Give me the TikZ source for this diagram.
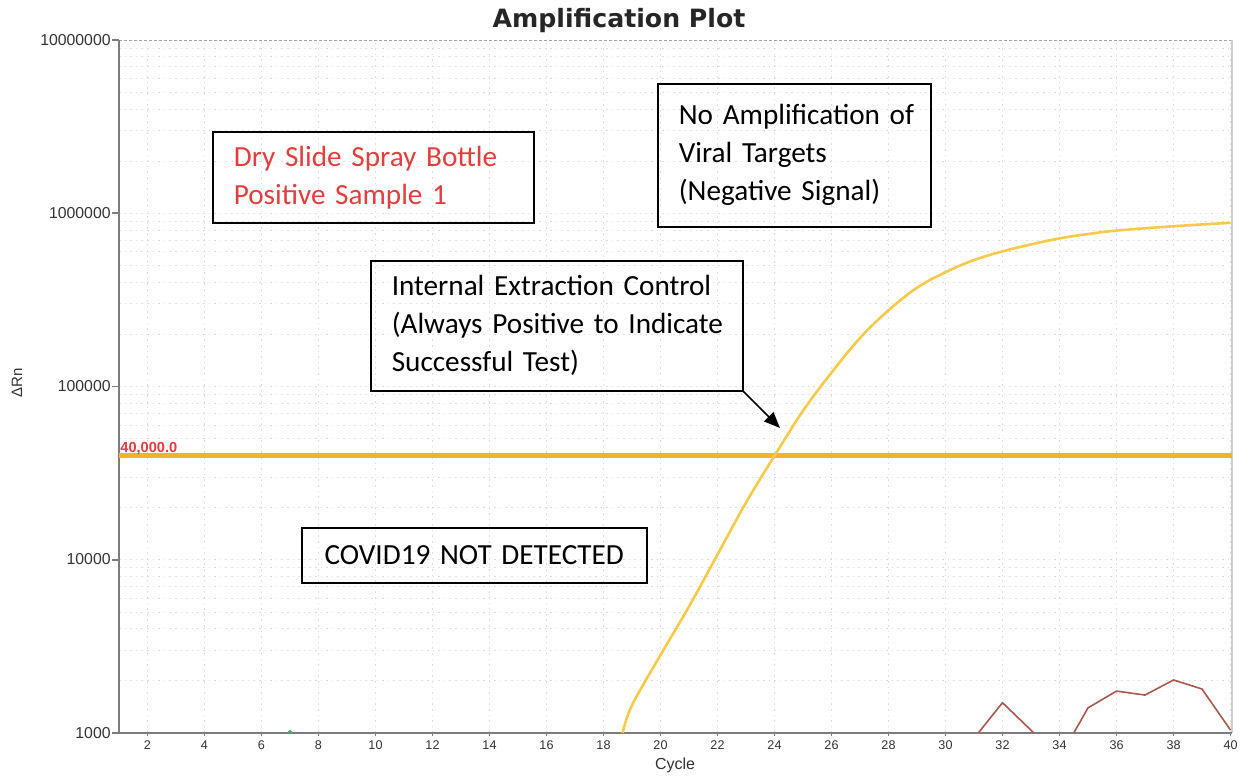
\documentclass[tikz,border=0pt]{standalone}
\usepackage{fontspec}
\setmainfont{Carlito}
\newfontfamily\axisfont{Liberation Sans}
\newfontfamily\titlefont{DejaVu Sans}
\usetikzlibrary{arrows.meta}
\definecolor{gridgray}{RGB}{222,222,222}
\definecolor{axisgray}{RGB}{125,125,125}
\definecolor{bordergray}{RGB}{205,205,205}
\definecolor{threshold}{RGB}{247,178,45}
\definecolor{ampyellow}{RGB}{248,201,75}
\definecolor{noisebrown}{RGB}{168,88,78}
\definecolor{labelred}{RGB}{226,62,62}
\definecolor{markgreen}{RGB}{80,165,120}
\begin{document}
\begin{tikzpicture}[x=0.5pt,y=-0.5pt,
  callout/.style={draw=black, line width=0.8pt, inner xsep=10.5pt, inner ysep=0pt,
    anchor=north west, font=\fontsize{14.6}{19}\selectfont},
  gridline/.style={gridgray, line width=0.4pt, dash pattern=on 0.8pt off 2pt},
  ylab/.style={anchor=east, inner sep=0pt, text=black!80, font=\axisfont\fontsize{7.9}{9}\selectfont},
  xlab/.style={anchor=center, inner sep=0pt, text=black!80, font=\axisfont\fontsize{6.3}{8}\selectfont},
  axisline/.style={axisgray, line width=0.8pt}]
\useasboundingbox (0,0) rectangle (1244,776);
\fill[white] (0,0) rectangle (1244,776);

% ---- plot area in (cycle, log10 value) coordinates ----
\begin{scope}[shift={(90.5,1252.75)}, xscale=28.5, yscale=-173.25]
  % grid
  \foreach \c in {2,4,...,40} \draw[gridline] (\c,3) -- (\c,7);
  \foreach \d in {3,4,5,6} {
    \foreach \k in {2,...,9} \draw[gridline] (1,{\d+log10(\k)}) -- (40.05,{\d+log10(\k)});
    \draw[gridline] (1,\d) -- (40.05,\d);
  }
  \draw[axisgray!70, line width=0.5pt, dash pattern=on 1.5pt off 1pt] (1,7) -- (40.05,7);
  \draw[bordergray, line width=0.6pt] (40.05,3) -- (40.05,7);
  % axes
  \draw[axisline] (1,7) -- (1,3) -- (40.05,3);
  \foreach \d in {3,...,7} \draw[axisline] (0.76,\d) -- (1,\d);
  \foreach \c in {2,4,...,40} \draw[axisline, line width=0.5pt] (\c,3) -- (\c,2.985);
  % threshold
  \draw[threshold, line width=2.3pt] (1,4.602) -- (40.05,4.602);
  % amplification curve
  \draw[ampyellow, line width=1.3pt, line join=round] plot[smooth, tension=0.6] coordinates {
    (18.67,3.0) (19.0,3.16) (20,3.45) (21,3.73) (22,4.03) (23,4.33) (24,4.60)
    (25,4.86) (26,5.08) (27,5.28) (28,5.44) (29,5.57) (30,5.66) (31,5.73)
    (32,5.78) (33,5.82) (34,5.855) (35,5.88) (36,5.90) (38,5.925) (40,5.945)};
  % noise traces
  \draw[noisebrown, line width=0.8pt, line join=round] (31.15,3.0) -- (32,3.175) -- (33.1,3.0);
  \draw[noisebrown, line width=0.8pt, line join=round] (34.5,3.0) -- (35,3.145) -- (36,3.242)
    -- (37,3.219) -- (38,3.306) -- (39,3.254) -- (40,3.017);
  % green marker
  \fill[markgreen] (6.88,3.0) -- (7.12,3.0) -- (7,3.02) -- cycle;
\end{scope}

% ---- axis labels ----
\node[ylab] (y7) at (111,40) {10000000};
\node[ylab] (y6) at (111,213) {1000000};
\node[ylab] (y5) at (111,386) {100000};
\node[ylab] (y4) at (111,559) {10000};
\node[ylab] (y3) at (111,733) {1000};
\foreach \c in {2,4,...,40} \node[xlab] (x\c) at ({90.5+28.5*\c},745) {\c};
\node[anchor=center, inner sep=0pt, text=black!80, font=\axisfont\fontsize{8}{9}\selectfont] (xtitle) at (675,765) {Cycle};
\node[anchor=center, inner sep=0pt, rotate=90, text=black!80, font=\axisfont\fontsize{7.5}{9}\selectfont] (ytitle) at (17,383) {ΔRn};
\node[anchor=base west, inner sep=0pt, text=labelred, font=\axisfont\bfseries\fontsize{7.3}{8}\selectfont] (thr) at (120,452) {40,000.0};

% ---- title ----
\node[anchor=base, inner sep=0pt, font=\titlefont\bfseries\fontsize{12.6}{14}\selectfont, text=black!85] (title) at (619,27) {Amplification Plot};

% ---- callouts ----
\node[callout, text=labelred, text width=139.5pt, minimum height=45.5pt, align=left] (sample) at (212,131)
  {\mbox{Dry Slide Spray Bottle}\\\mbox{Positive Sample 1}};
\node[callout, text width=115.5pt, minimum height=71.5pt, align=left] (noamp) at (657,83)
  {\mbox{No Amplification of}\\\mbox{Viral Targets}\\\mbox{(Negative Signal)}};
\node[callout, text width=165pt, minimum height=65pt, align=left] (ctrl) at (370,260)
  {\mbox{Internal Extraction Control}\\\mbox{(Always Positive to Indicate}\\\mbox{Successful Test)}};
\node[callout, text width=151.5pt, minimum height=27.5pt, align=center] (covid) at (301,527)
  {COVID19 NOT DETECTED};

\coordinate (tip) at (780,428);
\draw[line width=0.8pt, -{Triangle[length=8pt,width=6.5pt]}] (ctrl.south east) -- (tip);
\end{tikzpicture}
\end{document}
